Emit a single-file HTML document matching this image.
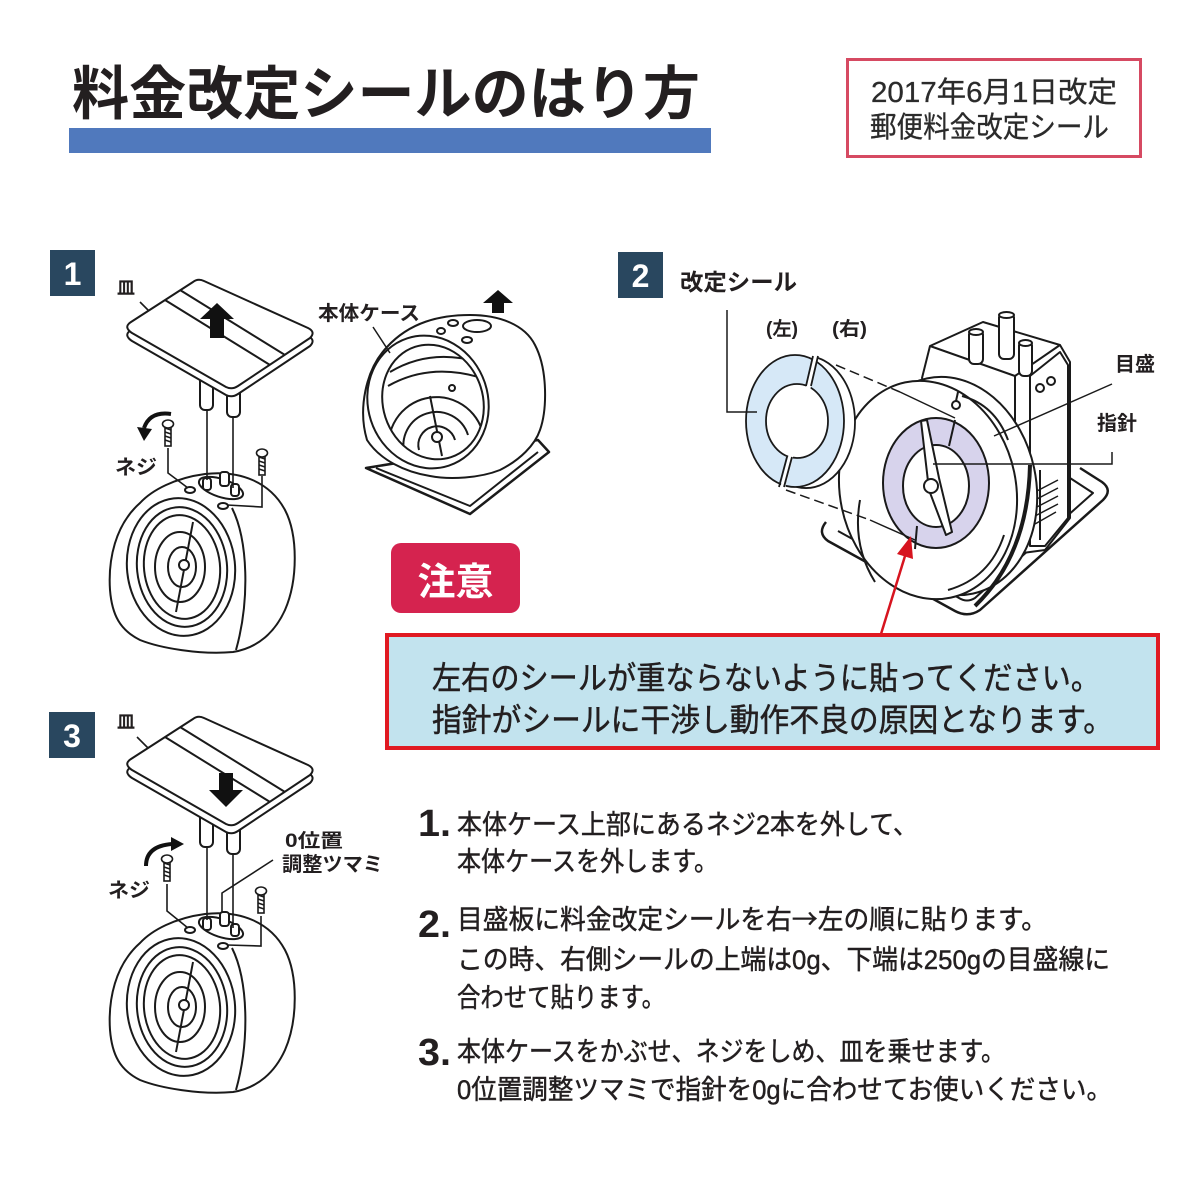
<!DOCTYPE html>
<html><head><meta charset="utf-8">
<style>
html,body{margin:0;padding:0;background:#fff;}
svg{display:block;}
text{font-family:"Liberation Sans","Noto Sans CJK JP",sans-serif;}
</style></head><body>
<svg width="1200" height="1200" viewBox="0 0 1200 1200" xmlns="http://www.w3.org/2000/svg">
<defs>
  <clipPath id="clipL"><polygon points="700,300 828,300 772,520 700,520"/></clipPath>
  <clipPath id="clipR"><polygon points="833,300 900,300 900,520 777,520"/></clipPath>
  <clipPath id="caseIn"><ellipse cx="433" cy="402" rx="50" ry="58" transform="rotate(-18 433 402)"/></clipPath>

  <g id="plate" stroke="#1a1a1a" stroke-width="2" fill="#fff" stroke-linejoin="round">
    <rect x="200" y="375" width="13" height="35" rx="5"/>
    <rect x="227" y="382" width="13" height="35" rx="5"/>
    <path d="M131,330 L193,290 Q198,286 204,289 L308,336 Q316,340 310,346 L238,394 Q232,398 226,395 L132,341 Q123,335 131,330 Z"/>
    <path d="M131,322 L193,282 Q198,278 204,281 L308,328 Q316,332 310,338 L238,386 Q232,390 226,387 L132,333 Q123,327 131,322 Z"/>
    <line x1="165" y1="300" x2="270" y2="365"/>
    <line x1="180" y1="290" x2="285" y2="355"/>
  </g>

  <g id="body" stroke="#1a1a1a" stroke-width="2" fill="#fff" stroke-linejoin="round">
    <path d="M140,503 C152,490 175,478 205,474 C240,470 270,482 285,510 C298,535 298,580 285,610 C275,632 258,648 233,652 C200,655 160,648 140,640 C120,630 112,615 110,590 C108,560 115,525 140,503 Z"/>
    <path d="M232,508 C248,540 250,600 236,650" fill="none"/>
    <ellipse cx="181" cy="567" rx="54" ry="69" transform="rotate(-6 181 567)"/>
    <ellipse cx="182" cy="567" rx="45" ry="60" transform="rotate(-6 182 567)"/>
    <ellipse cx="182" cy="567" rx="38" ry="52" transform="rotate(-6 182 567)"/>
    <ellipse cx="180" cy="567" rx="25" ry="35"/>
    <ellipse cx="182" cy="567" rx="14" ry="20"/>
    <line x1="193" y1="522" x2="176" y2="612"/>
    <circle cx="184" cy="565" r="5"/>
    <ellipse cx="221" cy="488" rx="23" ry="9" transform="rotate(18 221 488)"/>
    <ellipse cx="190" cy="490" rx="5" ry="3"/>
    <ellipse cx="223" cy="506" rx="5" ry="3"/>
    <rect x="203" y="478" width="8" height="12" rx="3"/>
    <rect x="220" y="472" width="9" height="14" rx="3"/>
    <rect x="231" y="484" width="8" height="12" rx="3"/>
  </g>

  <g id="screw" stroke="#1a1a1a" stroke-width="1.6" fill="#fff">
    <rect x="-3" y="0" width="6" height="22"/>
    <path d="M-3,4 L3,6 M-3,8 L3,10 M-3,12 L3,14 M-3,16 L3,18" fill="none"/>
    <ellipse cx="0" cy="0" rx="5.5" ry="4"/>
  </g>
</defs>

<!-- Title -->
<text x="72" y="114" font-size="58" font-weight="bold" fill="#231f20" textLength="628" lengthAdjust="spacingAndGlyphs">料金改定シールのはり方</text>
<rect x="69" y="128" width="642" height="25" fill="#5079bd"/>

<!-- Top right box -->
<rect x="847.5" y="59.5" width="293" height="97" fill="#fff" stroke="#d64a62" stroke-width="3"/>
<text x="871" y="102" font-size="29" fill="#2b2b2b" stroke="#2b2b2b" stroke-width="0.3" textLength="246" lengthAdjust="spacingAndGlyphs">2017年6月1日改定</text>
<text x="870" y="137" font-size="29" fill="#2b2b2b" stroke="#2b2b2b" stroke-width="0.3" textLength="239" lengthAdjust="spacingAndGlyphs">郵便料金改定シール</text>

<!-- Step squares -->
<rect x="50" y="250" width="45" height="46" fill="#29475f"/>
<text x="72.5" y="285" font-size="32" font-weight="bold" fill="#fff" text-anchor="middle">1</text>
<rect x="618" y="252" width="45" height="46" fill="#29475f"/>
<text x="640.5" y="287" font-size="32" font-weight="bold" fill="#fff" text-anchor="middle">2</text>
<rect x="49" y="712" width="46" height="46" fill="#29475f"/>
<text x="72" y="747" font-size="32" font-weight="bold" fill="#fff" text-anchor="middle">3</text>

<!-- ===== Step 1 ===== -->
<use href="#body"/>
<g stroke="#1a1a1a" stroke-width="1.6" fill="none">
  <line x1="207" y1="408" x2="207" y2="480"/>
  <line x1="233" y1="416" x2="233" y2="488"/>
  <polyline points="168,448 168,473 188,488"/>
  <polyline points="262,476 262,507 227,505"/>
  <line x1="140" y1="302" x2="157" y2="319"/>
</g>
<use href="#plate"/>
<polygon points="217,303 234,319 224,319 224,338 210,338 210,319 200,319" fill="#111"/>
<use href="#screw" x="168" y="424"/>
<use href="#screw" x="262" y="453"/>
<path d="M171,414 Q150,411 144,428" fill="none" stroke="#111" stroke-width="4"/>
<polygon points="137,427 152,429 144,441" fill="#111"/>
<text x="117" y="294" font-size="18" font-weight="bold" fill="#231f20">皿</text>
<text x="115" y="474" font-size="20" font-weight="bold" fill="#231f20" textLength="42" lengthAdjust="spacingAndGlyphs">ネジ</text>

<!-- Case -->
<g stroke="#1a1a1a" stroke-width="2" fill="#fff" stroke-linejoin="round">
  <polygon points="366,468 470,514 549,452 538,440" stroke-width="2.5"/>
  <polyline points="376,468 470,506 538,452" fill="none"/>
  <path d="M367,440 C358,410 365,370 387,347 C410,322 440,315 470,315 C500,315 525,325 535,345 C548,370 547,410 540,430 C535,445 520,460 500,470 C480,478 450,480 430,476 C405,472 380,460 367,440 Z"/>
  <ellipse cx="428" cy="402" rx="60" ry="67" transform="rotate(-18 428 402)"/>
  <ellipse cx="433" cy="402" rx="50" ry="58" transform="rotate(-18 433 402)"/>
  <g clip-path="url(#caseIn)" fill="none">
    <path d="M390,372 Q430,348 478,362"/>
    <path d="M388,386 Q430,362 482,378"/>
    <path d="M419,450 A18,18 0 0 1 455,440"/>
    <path d="M405,455 A32,32 0 0 1 468,435"/>
    <path d="M391,460 A46,46 0 0 1 482,430"/>
    <line x1="430" y1="396" x2="442" y2="456"/>
  </g>
  <circle cx="437" cy="437" r="5"/>
  <circle cx="452" cy="388" r="3"/>
  <ellipse cx="441" cy="331" rx="4" ry="3"/>
  <ellipse cx="453" cy="323" rx="5" ry="3"/>
  <ellipse cx="467" cy="340" rx="5" ry="3"/>
  <ellipse cx="477" cy="326" rx="14" ry="6"/>
  <line x1="373" y1="327" x2="390" y2="353" stroke-width="1.5"/>
</g>
<polygon points="498,290 513,303 504,303 504,313 492,313 492,303 483,303" fill="#111"/>
<text x="318" y="320" font-size="20" font-weight="bold" fill="#231f20" textLength="102" lengthAdjust="spacingAndGlyphs">本体ケース</text>

<!-- ===== Step 2 ===== -->
<g stroke="#1a1a1a" stroke-width="2" fill="#fff" stroke-linejoin="round">
  <path d="M1080,468 L1102,482 Q1113,490 1103,500 L980,610 Q968,618 955,611 L828,541 Q817,533 826,522" fill="none" stroke-width="2.5"/>
  <path d="M1070,478 L1093,493 L975,598 Q967,603 959,598 L838,531" fill="none"/>
  <polygon points="922,378 930,346 983,322 1060,345 1070,362 1070,518 1045,550 1000,556"/>
  <polyline points="930,346 1015,376 1060,345" fill="none"/>
  <polygon points="1030,376 1060,352 1068,365 1068,518 1045,546 1030,546"/>
  <line x1="1015" y1="376" x2="1015" y2="548"/>
  <circle cx="1040" cy="388" r="4"/>
  <circle cx="1051" cy="381" r="4"/>
  <path d="M1035,492 L1058,480 M1035,500 L1058,488 M1035,508 L1058,496 M1035,516 L1058,504 M1035,524 L1056,512" fill="none" stroke-width="1.5"/>
  <line x1="1040" y1="470" x2="1040" y2="540"/>
  <rect x="969" y="330" width="14" height="34" rx="5"/>
  <ellipse cx="976" cy="332" rx="7" ry="3"/>
  <rect x="999" y="313" width="15" height="46" rx="5"/>
  <ellipse cx="1006.5" cy="315" rx="7.5" ry="3"/>
  <rect x="1019" y="341" width="13" height="35" rx="5"/>
  <ellipse cx="1025.5" cy="343" rx="6.5" ry="3"/>
  <ellipse cx="950" cy="486" rx="86" ry="110" transform="rotate(-12 950 486)"/>
  <ellipse cx="928" cy="490" rx="88" ry="110" transform="rotate(-12 928 490)"/>
  <path d="M1030,465 Q1028,555 975,606" fill="none" stroke-width="4"/>
  <path d="M860,500 Q852,545 875,582" fill="none"/>
  <path d="M948,590 Q990,578 1004,535" fill="none"/>
  <path d="M962,396 Q995,405 1008,440" fill="none"/>
  <path fill="#d7d3ec" fill-rule="evenodd" d="M883,483 A53,65 0 1 0 989,483 A53,65 0 1 0 883,483 Z M903,486 A33,41 0 1 0 969,486 A33,41 0 1 0 903,486 Z"/>
  <line x1="955" y1="420" x2="949" y2="446"/>
  <line x1="917" y1="526" x2="915" y2="549"/>
  <polygon points="921,421 927,420 939,478 952,532 946,535 929,490"/>
  <circle cx="931" cy="486" r="7"/>
  <circle cx="956" cy="405" r="4"/>
  <line x1="956" y1="401" x2="958" y2="392"/>
</g>
<g stroke="#1a1a1a" stroke-width="1.8" stroke-linejoin="round">
  <path clip-path="url(#clipR)" fill="#fff" d="M757,422 A49,66 0 1 0 855,422 A49,66 0 1 0 757,422 Z"/>
  <path clip-path="url(#clipR)" fill="#d6e8f7" fill-rule="evenodd" d="M746,421 A49,66 0 1 0 844,421 A49,66 0 1 0 746,421 Z M766,421 A31,37 0 1 0 828,421 A31,37 0 1 0 766,421 Z"/>
  <path clip-path="url(#clipL)" fill="#d6e8f7" fill-rule="evenodd" d="M746,421 A49,66 0 1 0 844,421 A49,66 0 1 0 746,421 Z M766,421 A31,37 0 1 0 828,421 A31,37 0 1 0 766,421 Z"/>
  <line x1="813" y1="356" x2="806" y2="386"/>
  <line x1="818" y1="356" x2="811" y2="386"/>
  <line x1="787" y1="457" x2="779" y2="487"/>
  <line x1="792" y1="457" x2="784" y2="487"/>
</g>
<g stroke="#1a1a1a" stroke-width="1.5" fill="none">
  <line x1="836" y1="365" x2="900" y2="392" stroke-dasharray="10,5"/>
  <line x1="900" y1="392" x2="955" y2="418"/>
  <line x1="786" y1="490" x2="870" y2="520" stroke-dasharray="10,5"/>
  <line x1="870" y1="520" x2="915" y2="540"/>
  <polyline points="727,310 727,412 757,412"/>
  <line x1="1112" y1="384" x2="994" y2="436"/>
  <polyline points="1112,452 1112,464 933,464"/>
</g>
<text x="680" y="290" font-size="23" font-weight="bold" fill="#231f20" textLength="117" lengthAdjust="spacingAndGlyphs">改定シール</text>
<text x="766" y="335" font-size="19" font-weight="bold" fill="#231f20" textLength="32" lengthAdjust="spacingAndGlyphs">(左)</text>
<text x="832" y="335" font-size="19" font-weight="bold" fill="#231f20" textLength="35" lengthAdjust="spacingAndGlyphs">(右)</text>
<text x="1115" y="371" font-size="20" font-weight="bold" fill="#231f20" textLength="40" lengthAdjust="spacingAndGlyphs">目盛</text>
<text x="1097" y="430" font-size="20" font-weight="bold" fill="#231f20" textLength="40" lengthAdjust="spacingAndGlyphs">指針</text>

<line x1="881" y1="634" x2="905" y2="556" stroke="#d7141f" stroke-width="2.5"/>
<polygon points="911,536 913,559 897,554" fill="#d7141f"/>

<rect x="391" y="543" width="129" height="70" rx="10" fill="#d5234f"/>
<text x="455.5" y="595" font-size="38" font-weight="bold" fill="#fff" text-anchor="middle" textLength="76" lengthAdjust="spacingAndGlyphs">注意</text>
<rect x="387" y="635" width="771" height="113" fill="#c2e3ee" stroke="#e01a22" stroke-width="4"/>
<g fill="#231f20" stroke="#231f20" stroke-width="0.5">
<text x="432" y="689" font-size="32" textLength="668" lengthAdjust="spacingAndGlyphs">左右のシールが重ならないように貼ってください。</text>
<text x="432" y="731" font-size="32" textLength="681" lengthAdjust="spacingAndGlyphs">指針がシールに干渉し動作不良の原因となります。</text>
</g>

<!-- ===== Step 3 ===== -->
<g transform="translate(0,440)"><use href="#body"/></g>
<g stroke="#1a1a1a" stroke-width="1.6" fill="none">
  <line x1="207" y1="845" x2="207" y2="920"/>
  <line x1="233" y1="853" x2="233" y2="928"/>
  <polyline points="167,884 167,911 188,928"/>
  <polyline points="261,916 261,946 227,945"/>
  <line x1="137" y1="737" x2="153" y2="753"/>
  <polyline points="273,860 222,893 222,913"/>
</g>
<g transform="translate(0,437)"><use href="#plate"/></g>
<polygon points="226,807 243,790 233,790 233,773 219,773 219,790 209,790" fill="#111"/>
<use href="#screw" x="167" y="859"/>
<use href="#screw" x="261" y="891"/>
<path d="M146,866 Q146,846 172,844" fill="none" stroke="#111" stroke-width="4"/>
<polygon points="171,837 184,844 171,851" fill="#111"/>
<text x="117" y="728" font-size="18" font-weight="bold" fill="#231f20">皿</text>
<text x="108" y="897" font-size="20" font-weight="bold" fill="#231f20" textLength="42" lengthAdjust="spacingAndGlyphs">ネジ</text>
<text x="285" y="847" font-size="19" font-weight="bold" fill="#231f20" textLength="58" lengthAdjust="spacingAndGlyphs">0位置</text>
<text x="282" y="871" font-size="20" font-weight="bold" fill="#231f20" textLength="101" lengthAdjust="spacingAndGlyphs">調整ツマミ</text>

<!-- Instructions -->
<g fill="#231f20">
  <text x="418" y="836" font-size="38" font-weight="bold" textLength="33" lengthAdjust="spacingAndGlyphs">1.</text>
  <text x="418" y="937" font-size="38" font-weight="bold" textLength="33" lengthAdjust="spacingAndGlyphs">2.</text>
  <text x="418" y="1065" font-size="38" font-weight="bold" textLength="33" lengthAdjust="spacingAndGlyphs">3.</text>
</g>
<g fill="#231f20" stroke="#231f20" stroke-width="0.45" font-size="27">
  <text x="457" y="834" textLength="461" lengthAdjust="spacingAndGlyphs">本体ケース上部にあるネジ2本を外して、</text>
  <text x="457" y="871" textLength="261" lengthAdjust="spacingAndGlyphs">本体ケースを外します。</text>
  <text x="457" y="929" textLength="590" lengthAdjust="spacingAndGlyphs">目盛板に料金改定シールを右<tspan font-family="Noto Sans CJK JP, sans-serif">→</tspan>左の順に貼ります。</text>
  <text x="457" y="969" textLength="653" lengthAdjust="spacingAndGlyphs">この時、右側シールの上端は0g、下端は250gの目盛線に</text>
  <text x="457" y="1007" textLength="208" lengthAdjust="spacingAndGlyphs">合わせて貼ります。</text>
  <text x="457" y="1061" textLength="548" lengthAdjust="spacingAndGlyphs">本体ケースをかぶせ、ネジをしめ、皿を乗せます。</text>
  <text x="457" y="1099" textLength="655" lengthAdjust="spacingAndGlyphs">0位置調整ツマミで指針を0gに合わせてお使いください。</text>
</g>
</svg>
</body></html>
